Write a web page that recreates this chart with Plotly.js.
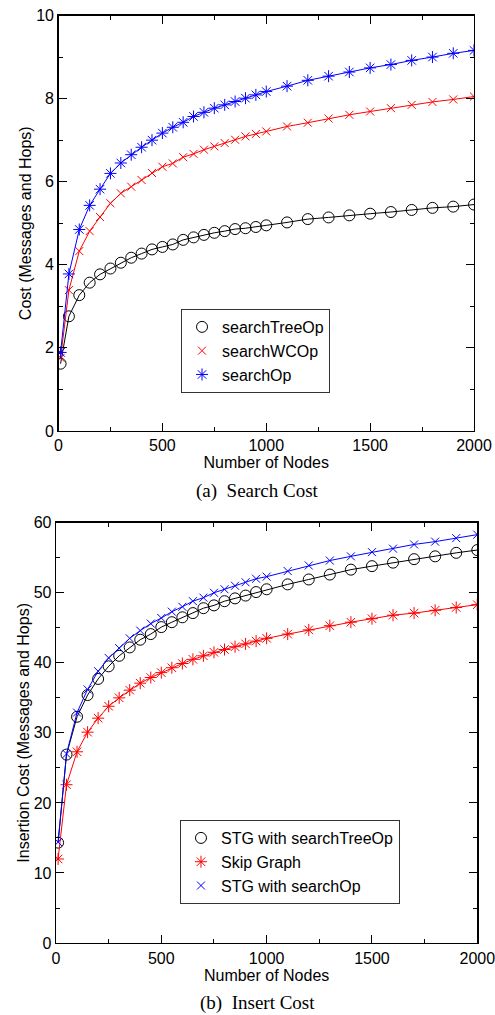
<!DOCTYPE html>
<html>
<head>
<meta charset="utf-8">
<script src="https://cdn.plot.ly/plotly-3.0.1.min.js"></script>
<style>html,body{margin:0;padding:0;background:#fff;}#chart{width:495px;height:1015px;}</style>
</head>
<body>
<div id="chart"></div>
<script>
const nodes = [10,50,100,150,200,250,300,350,400,450,500,550,600,650,700,750,800,850,900,950,1000,1100,1200,1300,1400,1500,1600,1700,1800,1900,2000];

// (a) Search Cost
const searchTreeOp = [1.62,2.76,3.27,3.57,3.77,3.91,4.05,4.17,4.27,4.37,4.43,4.49,4.60,4.66,4.72,4.77,4.81,4.86,4.88,4.91,4.95,5.02,5.10,5.14,5.19,5.23,5.27,5.32,5.37,5.40,5.45];
const searchWCOp   = [1.76,3.39,4.33,4.81,5.15,5.48,5.72,5.88,6.04,6.21,6.36,6.44,6.59,6.67,6.77,6.85,6.93,7.01,7.09,7.15,7.21,7.33,7.42,7.52,7.61,7.69,7.77,7.85,7.92,7.98,8.05];
const searchOp     = [1.89,3.78,4.85,5.43,5.82,6.20,6.45,6.65,6.83,7.00,7.17,7.31,7.43,7.57,7.67,7.77,7.85,7.93,8.01,8.09,8.17,8.30,8.44,8.54,8.64,8.74,8.82,8.92,9.00,9.09,9.16];

// (b) Insert Cost
const stgSearchTreeOp = [14.33,26.9,32.3,35.4,37.7,39.5,41.0,42.2,43.3,44.1,45.1,45.8,46.5,47.1,47.8,48.2,48.8,49.2,49.6,50.1,50.5,51.2,51.9,52.6,53.3,53.8,54.3,54.8,55.2,55.7,56.1];
const skipGraph       = [12.0,22.6,27.3,30.1,32.1,33.8,35.0,36.1,37.1,37.9,38.6,39.3,39.9,40.5,41.0,41.5,41.9,42.3,42.7,43.1,43.5,44.1,44.7,45.3,45.8,46.3,46.8,47.1,47.5,47.9,48.3];
const stgSearchOp     = [14.4,27.0,32.9,36.2,38.8,40.7,42.1,43.5,44.6,45.6,46.4,47.3,48.0,48.8,49.3,50.0,50.5,51.0,51.5,52.0,52.3,53.1,53.9,54.6,55.2,55.8,56.3,56.9,57.3,57.8,58.3];

const namesA = ['searchTreeOp','searchWCOp','searchOp'];
const namesB = ['STG with searchTreeOp','Skip Graph','STG with searchOp'];
const xTickVals = [0,500,1000,1500,2000];

function series(y, name, color, symbol, size, xa, ya, legend) {
  return [
    {x: nodes, y: y, type: 'scatter', mode: 'lines', xaxis: xa, yaxis: ya,
     line: {color: color, width: 1}, showlegend: false, hoverinfo: 'skip'},
    {x: nodes, y: y, type: 'scatter', mode: 'markers', name: name, xaxis: xa, yaxis: ya, legend: legend,
     marker: {symbol: symbol, size: size, color: color, line: {color: color, width: 1}}}
  ];
}

const data = [].concat(
  series(searchTreeOp, namesA[0], '#000000', 'circle-open', 11, 'x', 'y', 'legend'),
  series(searchWCOp, namesA[1], '#ff0000', 'x-thin-open', 8, 'x', 'y', 'legend'),
  series(searchOp, namesA[2], '#0000ff', 'asterisk-open', 10, 'x', 'y', 'legend'),
  series(stgSearchTreeOp, namesB[0], '#000000', 'circle-open', 11, 'x2', 'y2', 'legend2'),
  series(skipGraph, namesB[1], '#ff0000', 'asterisk-open', 10, 'x2', 'y2', 'legend2'),
  series(stgSearchOp, namesB[2], '#0000ff', 'x-thin-open', 8, 'x2', 'y2', 'legend2')
);

const font = {family: 'Liberation Sans, Arial, sans-serif', size: 16, color: '#000'};
function axis(extra) {
  return Object.assign({
    showline: true, linecolor: '#000', linewidth: 1.3, mirror: 'allticks',
    ticks: 'inside', ticklen: 8, tickwidth: 1, tickcolor: '#000',
    showgrid: false, zeroline: false, tickfont: font, fixedrange: true,
    ticklabeloverflow: 'allow'
  }, extra);
}

const layout = {
  width: 495, height: 1015,
  margin: {l: 0, r: 0, t: 0, b: 0},
  paper_bgcolor: '#fff', plot_bgcolor: '#fff',
  font: font,
  xaxis: axis({domain: [0.1182, 0.9576], anchor: 'y', range: [0, 2000], tickvals: xTickVals,
    minor: {dtick: 250, ticklen: 4, ticks: 'inside', tickcolor: '#000'},
    title: {text: 'Number of Nodes', font: font, standoff: 2}}),
  yaxis: axis({domain: [0.5754, 0.9847], anchor: 'x', range: [0, 10], dtick: 2,
    minor: {dtick: 1, ticklen: 4, ticks: 'inside', tickcolor: '#000'},
    title: {text: 'Cost (Messages and Hops)', font: font, standoff: 0}}),
  xaxis2: axis({domain: [0.1131, 0.9642], anchor: 'y2', range: [0, 2000], tickvals: xTickVals,
    minor: {dtick: 250, ticklen: 4, ticks: 'inside', tickcolor: '#000'},
    title: {text: 'Number of Nodes', font: font, standoff: 2}}),
  yaxis2: axis({domain: [0.0709, 0.4850], anchor: 'x2', range: [0, 60], dtick: 10,
    minor: {dtick: 5, ticklen: 4, ticks: 'inside', tickcolor: '#000'},
    title: {text: 'Insertion Cost (Messages and Hops)', font: font, standoff: 0}}),
  legend: {x: 0.3657, y: 0.6956, xanchor: 'left', yanchor: 'top', bgcolor: '#fff',
    bordercolor: '#333', borderwidth: 1, font: font, tracegroupgap: 0},
  legend2: {x: 0.3636, y: 0.1921, xanchor: 'left', yanchor: 'top', bgcolor: '#fff',
    bordercolor: '#333', borderwidth: 1, font: font, tracegroupgap: 0},
  annotations: [
    {text: '(a)  Search Cost', xref: 'paper', yref: 'paper', x: 0.52, y: 1 - 491/1015,
     xanchor: 'center', yanchor: 'middle', showarrow: false,
     font: {family: 'Liberation Serif, Times New Roman, serif', size: 19, color: '#000'}},
    {text: '(b)  Insert Cost', xref: 'paper', yref: 'paper', x: 0.52, y: 1 - 1003/1015,
     xanchor: 'center', yanchor: 'middle', showarrow: false,
     font: {family: 'Liberation Serif, Times New Roman, serif', size: 19, color: '#000'}}
  ]
};

Plotly.newPlot('chart', data, layout, {staticPlot: true, displayModeBar: false});
</script>
</body>
</html>
